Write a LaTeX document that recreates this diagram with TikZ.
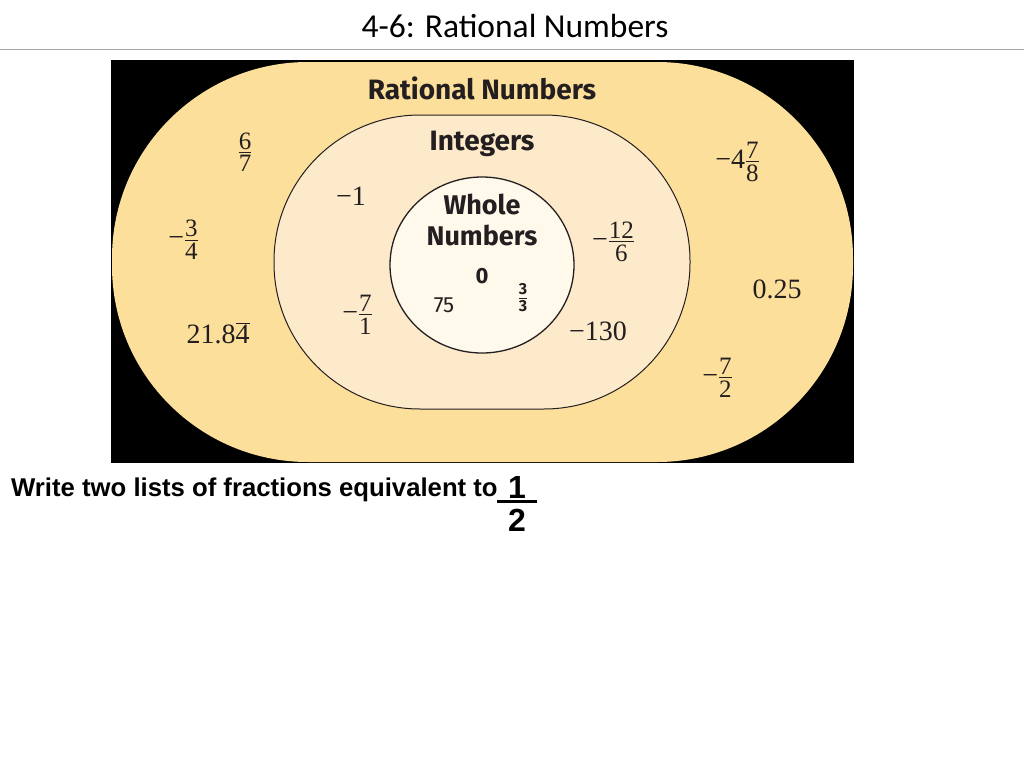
\documentclass[tikz,border=0pt]{standalone}
\usepackage{fontspec}
\usetikzlibrary{shapes.geometric}
\setmainfont{Liberation Serif}
\newfontfamily\lab{Fira Sans}
\newfontfamily\ttl{Carlito}
\newfontfamily\ari{Liberation Sans}
\newcommand\fr[2]{$\vcenter{\halign{\hfil##\hfil\cr #1\cr\noalign{\kern2.5pt\hrule height 0.9pt\kern2.5pt}#2\cr}}$}
\newcommand\frb[2]{$\vcenter{\halign{\hbox to 40pt{\hss##\hss}\cr #1\cr\noalign{\kern2pt\hrule height 3pt\kern6pt}#2\cr}}$}
\definecolor{ratcol}{RGB}{252,223,154}
\definecolor{intcol}{RGB}{253,234,203}
\definecolor{whcol}{RGB}{255,249,236}
\definecolor{txt}{RGB}{35,31,32}
\tikzset{
  region/.style={draw=txt, line width=1pt, rectangle},
  lbl/.style={font=\lab\bfseries\fontsize{28}{30}\selectfont, text=txt, inner sep=0},
  num/.style={font=\fontsize{28}{30}\selectfont, text=txt, inner sep=0},
  frac/.style={font=\fontsize{25}{26}\selectfont, text=txt, inner sep=0},
}
\newcommand\mn{{\fontsize{28}{30}\selectfont −}\kern1pt}
\begin{document}
\begin{tikzpicture}[x=1pt,y=-1pt]
\useasboundingbox (0,0) rectangle (1024,768);
\node[font=\ttl\fontsize{33.5}{36}\selectfont, inner sep=0] (title) at (515,26) {4-6: Rational Numbers};
\draw[gray!70, line width=1pt] (0,50) -- (1024,50);
\fill[black] (111,60) rectangle (854,463);
\node[region, draw=none, fill=ratcol, minimum width=741pt, minimum height=400pt, rounded corners=196pt] (rat) at (482.5,262) {};
\node[region, fill=intcol, minimum width=416pt, minimum height=294pt, rounded corners=146pt] (int) at (482,262) {};
\node[draw=txt, line width=1.3pt, fill=whcol, ellipse, minimum width=184pt, minimum height=176pt, inner sep=0] (whole) at (482,265) {};
\node[lbl] (ratl) at (482,88) {Rational Numbers};
\node[lbl] (intl) at (482,144) {Integers};
\node[lbl, align=center, font=\lab\bfseries\fontsize{27}{31}\selectfont] (whl) at (482,220) {Whole\\Numbers};
\node[lbl, font=\lab\bfseries\fontsize{22}{22}\selectfont] (zero) at (482,276) {0};
\node[lbl, font=\lab\fontsize{22}{22}\selectfont] (sev) at (444,305) {75};
\node[frac, font=\lab\bfseries\fontsize{16}{16}\selectfont] (tt) at (523,298) {\fr{3}{3}};
\node[frac] (a) at (245,152) {\fr{6}{7}};
\node[frac] (b) at (183,240) {\mn\fr{3}{4}};
\node[num] (c) at (218,333) {21.8$\overline{\hbox{4}}$};
\node[num] (d) at (351,196) {−1};
\node[frac] (e) at (357,315) {\mn\fr{7}{1}};
\node[frac] (f) at (613,242) {\mn\fr{12}{6}};
\node[num] (g) at (598,331) {−130};
\node[frac] (h) at (737,162) {{\fontsize{28}{30}\selectfont −4}\kern1pt\fr{7}{8}};
\node[num] (i) at (777,289) {0.25};
\node[frac] (j) at (717,378) {\mn\fr{7}{2}};
\node[anchor=base west, inner sep=0, font=\ari\bfseries\fontsize{25.7}{28}\selectfont] (q) at (11,496) {Write two lists of fractions equivalent to};
\node[inner sep=0, font=\ari\bfseries\fontsize{32}{34}\selectfont] (half) at (517,504) {\frb{1}{2}};
\end{tikzpicture}
\end{document}
